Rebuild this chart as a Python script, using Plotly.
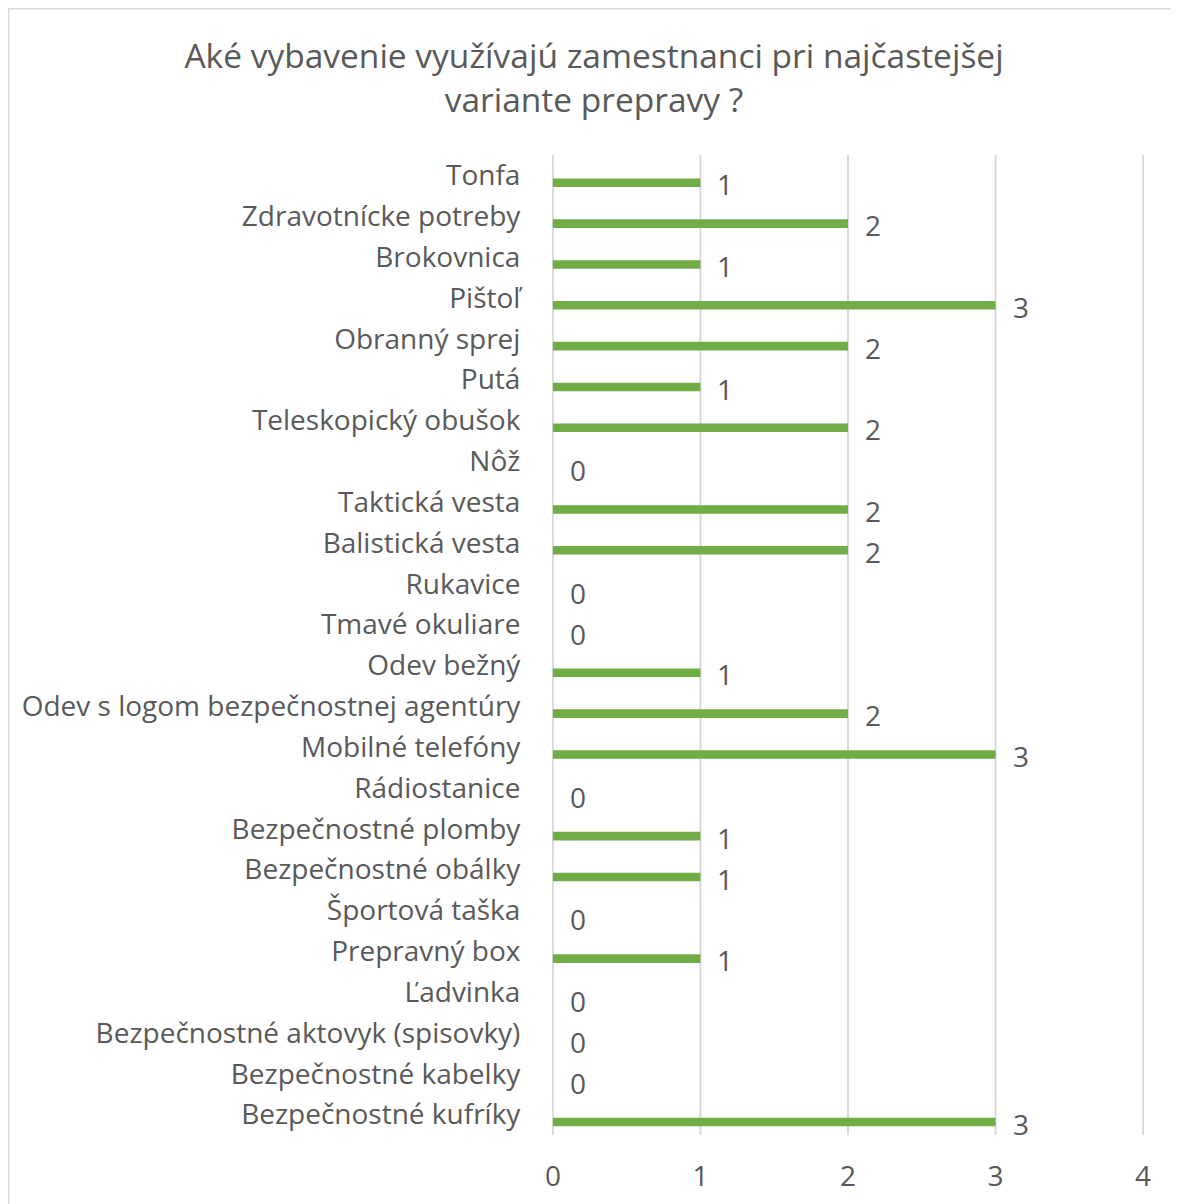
import plotly.graph_objects as go

# categories listed bottom -> top
categories = [
    "Bezpečnostné kufríky",
    "Bezpečnostné kabelky",
    "Bezpečnostné aktovyk (spisovky)",
    "Ľadvinka",
    "Prepravný box",
    "Športová taška",
    "Bezpečnostné obálky",
    "Bezpečnostné plomby",
    "Rádiostanice",
    "Mobilné telefóny",
    "Odev s logom bezpečnostnej agentúry",
    "Odev bežný",
    "Tmavé okuliare",
    "Rukavice",
    "Balistická vesta",
    "Taktická vesta",
    "Nôž",
    "Teleskopický obušok",
    "Putá",
    "Obranný sprej",
    "Pištoľ",
    "Brokovnica",
    "Zdravotnícke potreby",
    "Tonfa",
]
values = [3, 0, 0, 0, 1, 0, 1, 1, 0, 3, 2, 1, 0, 0, 2, 2, 0, 2, 1, 2, 3, 1, 2, 1]
x_ticks = [0, 1, 2, 3, 4]
title_text = "Aké vybavenie využívajú zamestnanci pri najčastejšej<br>variante prepravy ?"

W, H = 1179, 1204
L, R, T, B = 544, 43, 147, 77
FONT = "Open Sans"
GREY = "#595959"
GRID = "#D9D9D9"
FS = 28

fig = go.Figure()

# vertical gridlines at each tick value (drawn below the bars)
for t in x_ticks:
    fig.add_shape(type="line", xref="x", yref="paper", x0=t, x1=t, y0=0, y1=1,
                  line=dict(color=GRID, width=2), layer="below")

fig.add_trace(go.Bar(
    x=values, y=categories, orientation="h",
    marker=dict(color="#70AD47", line=dict(width=0)),
    width=0.21, offset=-0.285,
    hoverinfo="x+y",
))

for c, v in zip(categories, values):
    fig.add_annotation(
        x=v, y=c, text=str(v), showarrow=False,
        xanchor="left", yanchor="middle", xshift=15, yshift=-9,
        font=dict(family=FONT, size=FS, color=GREY),
    )

pw = W - L - R
ph = H - T - B
fig.add_shape(
    type="rect", xref="paper", yref="paper",
    x0=(0.5 - L) / pw, x1=(W + 20 - L) / pw,
    y0=(H - B - (H + 20)) / ph, y1=(H - B - 0.5) / ph,
    line=dict(color=GRID, width=2), fillcolor="rgba(0,0,0,0)", layer="below",
)

fig.update_layout(
    width=W, height=H,
    margin=dict(l=L, r=R, t=T, b=B),
    paper_bgcolor="white", plot_bgcolor="white",
    showlegend=False,
    title=dict(text=title_text, x=586 / W, xanchor="center", xref="container",
               y=1 - 60 / H, yanchor="middle", yref="container",
               font=dict(family=FONT, size=33.5, color=GREY)),
    font=dict(family=FONT, color=GREY),
    xaxis=dict(range=[-0.006, 4.006], tickvals=x_ticks, showgrid=False,
               zeroline=False, showline=False, ticks="outside", ticklen=16,
               tickcolor="rgba(0,0,0,0)", tickfont=dict(family=FONT, size=FS, color=GREY),
               fixedrange=True),
    yaxis=dict(type="category", categoryorder="array", categoryarray=categories,
               range=[-0.5, len(categories) - 0.5],
               showgrid=False, zeroline=False, showline=False, ticks="outside", ticklen=25,
               tickcolor="rgba(0,0,0,0)", tickfont=dict(family=FONT, size=FS, color=GREY),
               fixedrange=True),
)

fig.write_html("out.html")
